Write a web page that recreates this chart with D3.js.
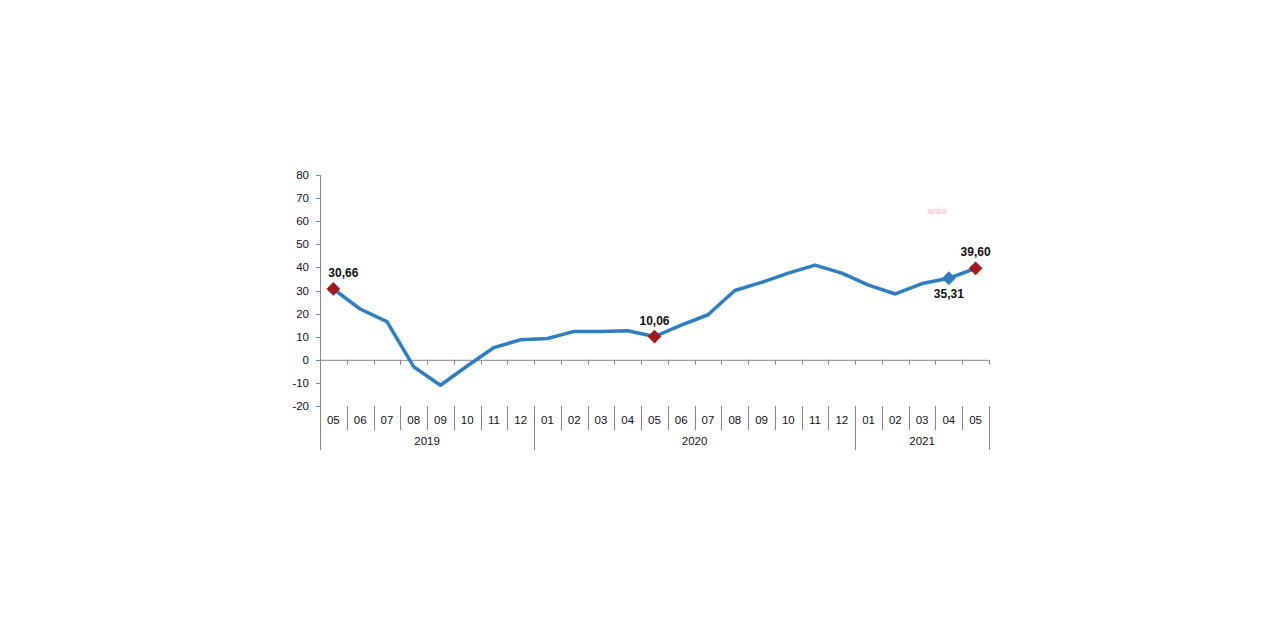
<!DOCTYPE html><html><head><meta charset="utf-8"><script src="https://cdn.jsdelivr.net/npm/d3@7"></script>
<style>body{margin:0;background:#fff}svg{font-family:Arial,"Liberation Sans",sans-serif}</style></head><body><svg width="1280" height="640"></svg><script>
const months=["05","06","07","08","09","10","11","12","01","02","03","04","05","06","07","08","09","10","11","12","01","02","03","04","05"];
const values=[30.66,22,16.5,-3,-11,-2.7,5.3,8.7,9.2,12.3,12.3,12.6,10.06,15,19.5,30,33.5,37.5,41,37.5,32.3,28.5,33,35.31,39.60];
const years=[{label:"2019",start:0,end:8},{label:"2020",start:8,end:20},{label:"2021",start:20,end:25}];
const yTicks=[80,70,60,50,40,30,20,10,0,-10,-20];
const markers=[{i:0,label:"30,66",color:"#a31a1d",pos:"above"},{i:12,label:"10,06",color:"#a31a1d",pos:"above"},{i:23,label:"35,31",color:"#2e7fc1",pos:"below"},{i:24,label:"39,60",color:"#a31a1d",pos:"above"}];
const svg=d3.select("svg");
const L=320,R=989;
const y=d3.scaleLinear().domain([-20,80]).range([406,175]);
const x=d3.scaleBand().domain(d3.range(months.length)).range([L,R]);
const cx=i=>x(i)+x.bandwidth()/2;
const g=svg.append("g").attr("stroke","#888").attr("stroke-width",1);
g.append("line").attr("x1",L+.5).attr("x2",L+.5).attr("y1",175).attr("y2",450);
yTicks.forEach(t=>{g.append("line").attr("x1",L-4).attr("x2",L).attr("y1",Math.round(y(t))+.5).attr("y2",Math.round(y(t))+.5);
svg.append("text").attr("x",L-11).attr("y",y(t)+4).attr("text-anchor","end").attr("font-size",11.5).attr("fill","#111").text(t);});
g.append("line").attr("x1",L).attr("x2",R).attr("y1",y(0)+.5).attr("y2",y(0)+.5);
d3.range(months.length+1).forEach(i=>{const xx=Math.round(L+i*x.step())+.5;
if(i>0) g.append("line").attr("x1",xx).attr("x2",xx).attr("y1",y(0)).attr("y2",y(0)+5);
const isYear=years.some(yv=>yv.start===i)||i===months.length;
g.append("line").attr("x1",xx).attr("x2",xx).attr("y1",406).attr("y2",isYear?450:430);});
months.forEach((m,i)=>svg.append("text").attr("x",cx(i)).attr("y",424).attr("text-anchor","middle").attr("font-size",11.5).attr("fill","#111").text(m));
years.forEach(yv=>svg.append("text").attr("x",(L+yv.start*x.step()+L+yv.end*x.step())/2).attr("y",445).attr("text-anchor","middle").attr("font-size",11.5).attr("fill","#111").text(yv.label));
svg.append("path").datum(values).attr("fill","none").attr("stroke","#2e7fc1").attr("stroke-width",3.5).attr("stroke-linejoin","round")
.attr("d",d3.line().x((d,i)=>cx(i)).y(d=>y(d)));
markers.forEach(m=>{const px=cx(m.i),py=y(values[m.i]);
svg.append("path").attr("d",d3.symbol(d3.symbolSquare,95)()).attr("transform",`translate(${px},${py}) rotate(45)`).attr("fill",m.color);
svg.append("text").attr("x",px+(m.i===0?10:0)).attr("y",m.pos==="above"?py-12:py+20).attr("text-anchor","middle").attr("font-size",12).attr("font-weight","bold").attr("fill","#111").text(m.label);});
svg.append("text").attr("x",937).attr("y",214).attr("text-anchor","middle").attr("font-size",9).attr("fill","#f4b6c4").text("anka");
</script></body></html>
